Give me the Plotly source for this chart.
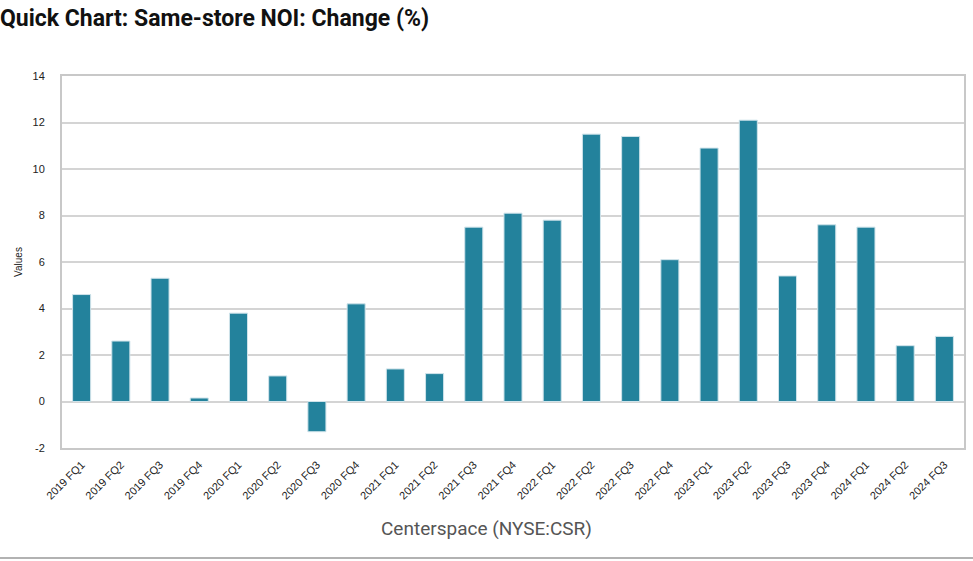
import plotly.graph_objects as go

categories = ["2019 FQ1", "2019 FQ2", "2019 FQ3", "2019 FQ4",
              "2020 FQ1", "2020 FQ2", "2020 FQ3", "2020 FQ4",
              "2021 FQ1", "2021 FQ2", "2021 FQ3", "2021 FQ4",
              "2022 FQ1", "2022 FQ2", "2022 FQ3", "2022 FQ4",
              "2023 FQ1", "2023 FQ2", "2023 FQ3", "2023 FQ4",
              "2024 FQ1", "2024 FQ2", "2024 FQ3"]
values = [4.6, 2.6, 5.3, 0.15,
          3.8, 1.1, -1.3, 4.2,
          1.4, 1.2, 7.5, 8.1,
          7.8, 11.5, 11.4, 6.1,
          10.9, 12.1, 5.4, 7.6,
          7.5, 2.4, 2.8]
y_ticks = [-2, 0, 2, 4, 6, 8, 10, 12, 14]

L, R, T, B = 62, 9, 76, 113
PW, PH = 973 - L - R, 561 - T - B

fig = go.Figure()
fig.add_trace(go.Bar(
    x=categories, y=values,
    marker=dict(color="#23829C", line=dict(color="#cfe3ea", width=1)),
    width=0.46,
))

fig.update_layout(
    width=973, height=561,
    margin=dict(l=L, r=R, t=T, b=B, autoexpand=False),
    paper_bgcolor="white", plot_bgcolor="white",
    showlegend=False,
    title=dict(text="<b>Quick Chart: Same-store NOI: Change (%)</b>",
               xref="container", x=0.0, xanchor="left",
               yref="container", y=1 - 18 / 561, yanchor="middle",
               pad=dict(l=0, r=0, t=0, b=0),
               font=dict(family="Roboto, Arial, sans-serif", size=23, color="#111111")),
    font=dict(family="Liberation Sans, Arial, sans-serif", size=11, color="#222222"),
)

fig.update_xaxes(
    automargin=False,
    tickangle=-45, tickfont=dict(size=11, color="#222222"),
    showgrid=False, showline=True, linecolor="#c8c8c8", linewidth=2, mirror=True,
    ticks="outside", ticklen=4, tickcolor="white",
)
fig.update_yaxes(
    automargin=False,
    range=[-2, 14], tickvals=y_ticks, ticktext=[str(v) for v in y_ticks],
    tickfont=dict(size=11, color="#222222"),
    showgrid=True, gridcolor="#d4d4d4", gridwidth=2,
    zeroline=True, zerolinecolor="#d4d4d4", zerolinewidth=2,
    showline=True, linecolor="#c8c8c8", linewidth=2, mirror=True,
    ticks="outside", ticklen=13, tickcolor="white",
    title=dict(text="Values", font=dict(size=10, color="#222222"), standoff=8),
)

fig.add_annotation(
    text="Centerspace (NYSE:CSR)", showarrow=False,
    xref="paper", yref="paper",
    x=(973 / 2 - L) / PW, y=-(528 - (T + PH)) / PH,
    xanchor="center", yanchor="middle",
    font=dict(family="Roboto, Arial, sans-serif", size=19, color="#555555"),
)

fig.add_shape(type="line", xref="paper", yref="paper",
              x0=-L / PW, x1=1 + R / PW, y0=-(558 - (T + PH)) / PH, y1=-(558 - (T + PH)) / PH,
              line=dict(color="#999999", width=1.5))

fig.write_html("out.html",
               config={"displayModeBar": False},
               post_script="document.body.style.margin='0';document.body.style.overflow='hidden';")
